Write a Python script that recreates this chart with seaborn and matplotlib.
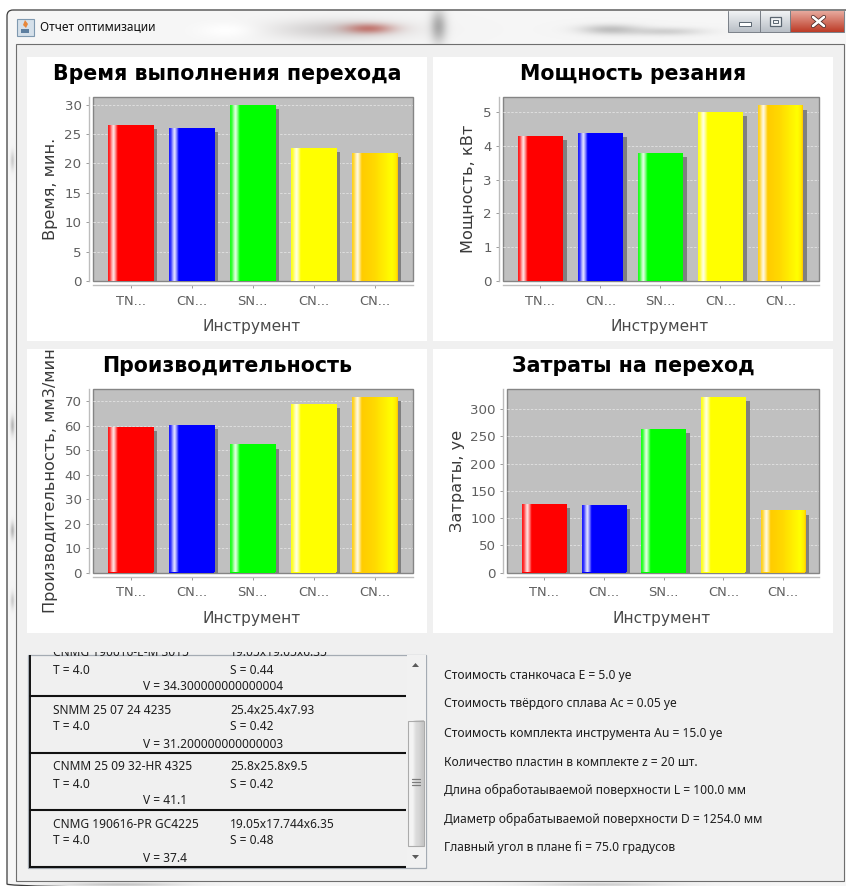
import numpy as np
import pandas as pd
import matplotlib
matplotlib.use("Agg")
import matplotlib.pyplot as plt
import matplotlib.patheffects as pe
from matplotlib.patches import Rectangle, FancyBboxPatch, Polygon
import seaborn as sns

# Tool identifiers and truncated axis labels
tool_ids = ["tool_1", "tool_2", "tool_3", "tool_4", "tool_5"]
tool_labels = ["TN...", "CN...", "SN...", "CN...", "CN..."]
tool_colors = ["#FF0000", "#0000FF", "#00FF00", "#FFFF00", "#FFCC00"]

# Measured values per tool
time_values = [26.5, 26.0, 29.9, 22.7, 21.8]
power_values = [4.28, 4.37, 3.79, 5.0, 5.19]
productivity_values = [59.3, 60.2, 52.3, 68.8, 71.5]
cost_values = [126.4, 124.5, 264.4, 322.0, 114.0]

# Tick values per chart
time_ticks = [0, 5, 10, 15, 20, 25, 30]
power_ticks = [0, 1, 2, 3, 4, 5]
productivity_ticks = [0, 10, 20, 30, 40, 50, 60, 70]
cost_ticks = [0, 50, 100, 150, 200, 250, 300]

# Text of the report list and the parameter block
list_rows = [
    ("CNMG 190616-E-M 3015", "19.05x19.05x6.35", "T = 4.0", "S = 0.44", "V = 34.300000000000004"),
    ("SNMM 25 07 24 4235", "25.4x25.4x7.93", "T = 4.0", "S = 0.42", "V = 31.200000000000003"),
    ("CNMM 25 09 32-HR 4325", "25.8x25.8x9.5", "T = 4.0", "S = 0.42", "V = 41.1"),
    ("CNMG 190616-PR GC4225", "19.05x17.744x6.35", "T = 4.0", "S = 0.48", "V = 37.4"),
]
parameter_lines = [
    "Стоимость станкочаса E = 5.0 уе",
    "Стоимость твёрдого сплава Ac = 0.05 уе",
    "Стоимость комплекта инструмента Au = 15.0 уе",
    "Количество пластин в комплекте z = 20 шт.",
    "Длина обработаываемой поверхности L = 100.0 мм",
    "Диаметр обрабатываемой поверхности D = 1254.0 мм",
    "Главный угол в плане fi = 75.0 градусов",
]

W, H = 846, 886
PLOT_BG = "#C0C0C0"
PANEL_BG = "#F0F0F0"
AXIS_TEXT = "#5F5F5F"
UI_FONT = "Noto Sans"

sns.set_theme(style="white")
plt.rcParams["font.family"] = ["DejaVu Sans"]

fig = plt.figure(figsize=(W / 100, H / 100), dpi=100, facecolor="white")

# Window frame layer, addressed in pixels with the origin at the top left
chrome = fig.add_axes([0, 0, 1, 1], zorder=0)
chrome.set_xlim(0, W)
chrome.set_ylim(H, 0)
chrome.axis("off")


def soft_layer():
    """Blurred desktop showing through the glass title bar and frame."""
    yy, xx = np.mgrid[0:H, 0:W]
    rgb = np.ones((H, W, 3)) * 0.965
    blobs = [
        (340, 29, 65, 10, (0.66, 0.64, 0.64), 0.5),
        (368, 28, 24, 5, (0.72, 0.28, 0.24), 0.65),
        (225, 30, 28, 8, (1.0, 1.0, 1.0), 0.95),
        (438, 26, 8, 16, (0.62, 0.62, 0.62), 0.85),
        (610, 29, 30, 5, (0.55, 0.55, 0.55), 0.5),
        (665, 31, 38, 4, (0.60, 0.60, 0.60), 0.4),
        (12, 160, 2, 9, (0.70, 0.70, 0.70), 0.6),
        (12, 425, 2, 9, (0.62, 0.62, 0.62), 0.7),
        (12, 530, 2, 8, (0.62, 0.62, 0.62), 0.7),
        (12, 600, 2, 8, (0.70, 0.70, 0.70), 0.6),
        (120, 884, 60, 2, (0.70, 0.70, 0.70), 0.7),
        (600, 884, 70, 2, (0.72, 0.72, 0.72), 0.6),
    ]
    for cx, cy, sx, sy, col, strength in blobs:
        a = strength * np.exp(-((xx - cx) / sx) ** 2 - ((yy - cy) / sy) ** 2)
        rgb = rgb * (1 - a[..., None]) + np.array(col) * a[..., None]
    return rgb


window = FancyBboxPatch((7, 10), 845, 880, boxstyle="round,pad=0,rounding_size=6",
                        fc="none", ec="#3C3C3C", lw=0.9, zorder=2)
chrome.add_patch(window)
layer = chrome.imshow(soft_layer(), extent=(0, W, H, 0), aspect="auto", zorder=1)
clip_shape = FancyBboxPatch((7, 10), 845, 880, boxstyle="round,pad=0,rounding_size=6",
                            fc="none", ec="none", transform=chrome.transData)
chrome.add_patch(clip_shape)
layer.set_clip_path(clip_shape)
chrome.set_xlim(0, W)
chrome.set_ylim(H, 0)

# Client area with its thin border
chrome.add_patch(Rectangle((15.5, 43.5), 828, 837.5, fc=PANEL_BG, ec="#6E6E6E", lw=0.8, zorder=3))

# White chart panels
for px, py in [(27, 57), (433, 57), (27, 349), (433, 349)]:
    chrome.add_patch(Rectangle((px, py), 399.5, 284, fc="white", ec="none", zorder=4))

# Title bar: icon, caption, window buttons
chrome.add_patch(Rectangle((17, 18.5), 16.5, 17.5, fc="#D5E0EA", ec="#7F99B0", lw=0.8, zorder=4))
chrome.add_patch(Rectangle((21, 28.5), 8, 4, fc="#5E7FA0", ec="none", zorder=5))
chrome.add_patch(Polygon([(25, 20), (28, 24), (26, 28), (23, 25)], fc="#E8873A", ec="none", zorder=5))
chrome.text(40, 27, "Отчет оптимизации", family=UI_FONT, fontsize=8.6, color="#101010",
            va="center", ha="left", zorder=5)

for x0, x1, top, bottom in [(728, 760, "#F0F2F4", "#BAC0C7"), (760, 790, "#F0F2F4", "#BAC0C7"),
                            (790, 844, "#E6A89C", "#BE3D29")]:
    grad = np.linspace(0, 1, 22)[:, None, None]
    c0 = np.array(matplotlib.colors.to_rgb(top))
    c1 = np.array(matplotlib.colors.to_rgb(bottom))
    chrome.imshow(c0 * (1 - grad) + c1 * grad, extent=(x0, x1, 32, 11), aspect="auto", zorder=5)
    chrome.plot([x0, x0, x1, x1], [11, 32, 32, 11], color="#7A8088", lw=0.7, zorder=6)
chrome.set_xlim(0, W)
chrome.set_ylim(H, 0)
chrome.add_patch(Rectangle((739, 21.5), 12, 4, fc="white", ec="#5A6570", lw=0.7, zorder=7))
chrome.add_patch(Rectangle((769.5, 16.5), 11, 9, fc="#F2F4F6", ec="#5A6570", lw=0.9, zorder=7))
chrome.add_patch(Rectangle((772.5, 19.5), 5, 3, fc="#F2F4F6", ec="#5A6570", lw=0.7, zorder=7))
for dx0, dx1 in [(813, 824), (824, 813)]:
    chrome.plot([dx0, dx1], [17, 26], color="#4A2A28", lw=3.0, solid_capstyle="round", zorder=7)
    chrome.plot([dx0, dx1], [17, 26], color="white", lw=1.9, solid_capstyle="round", zorder=8)

# Scrolling list of tools; the first row is partly scrolled out of view
box = Rectangle((28, 654.5), 398, 213, fc=PANEL_BG, ec="#A4ABB3", lw=0.9, zorder=4)
chrome.add_patch(box)
viewport = Rectangle((28, 651.5), 398, 216, fc="none", ec="none", transform=chrome.transData)
chrome.add_patch(viewport)
row_tops = [639, 696, 753, 810]
LIST_SIZE = 8.6
for top, (name, size, t, s, v) in zip(row_tops, list_rows):
    for x, y, string in [(53, top + 14, name), (230, top + 14, size), (53, top + 31, t),
                         (230, top + 31, s), (143, top + 48, v)]:
        label = chrome.text(x, y, string, family=UI_FONT, fontsize=LIST_SIZE, color="#1E1E1E",
                            va="center", ha="left", zorder=5)
        label.set_clip_on(True)
        label.set_clip_path(viewport)
    chrome.plot([29, 406], [top + 57, top + 57], color="#111111", lw=1.5, zorder=5,
                solid_capstyle="butt")
chrome.plot([29.5, 29.5], [655, 867], color="#111111", lw=1.4, zorder=5, solid_capstyle="butt")

# Scrollbar with thumb, grip and arrows
chrome.add_patch(Rectangle((406.5, 655), 19, 212, fc="#F1F1F1", ec="none", zorder=5))
thumb = np.array([[0.95, 0.95, 0.86, 0.83, 0.78]])
chrome.imshow(thumb, cmap="gray", vmin=0, vmax=1, extent=(408, 423.5, 846, 720.5),
              aspect="auto", zorder=6, interpolation="bilinear")
chrome.set_xlim(0, W)
chrome.set_ylim(H, 0)
chrome.add_patch(Rectangle((408, 720.5), 15.5, 125.5, fc="none", ec="#ABABAB", lw=0.8, zorder=7))
for gy in (779, 782, 785):
    chrome.plot([411.5, 419.5], [gy, gy], color="#7A7A7A", lw=0.9, zorder=8)
chrome.add_patch(Polygon([(412, 667), (419, 667), (415.5, 663)], fc="#5A5A5A", ec="none", zorder=7))
chrome.add_patch(Polygon([(412, 855), (419, 855), (415.5, 859)], fc="#5A5A5A", ec="none", zorder=7))

# Parameter block to the right of the list
for y, line in zip([676, 704, 733, 762, 790, 819, 847], parameter_lines):
    chrome.text(444, y, line, family=UI_FONT, fontsize=8.7, color="#1E1E1E",
                va="center", ha="left", zorder=5)


def bar_overlay(face, width=64):
    """Horizontal highlight painted over one bar: a bright stripe near the left edge."""
    u = np.linspace(0, 1, width)
    rgb = np.ones((1, width, 3)) * np.array(matplotlib.colors.to_rgb(face))
    if face == "#FFCC00":
        # The last bar fades from amber to yellow and back at its right edge
        g = np.interp(u, [0, 0.22, 0.48, 0.88, 0.97, 1.0], [0.80, 0.80, 0.85, 1.0, 0.92, 0.78])
        rgb[0, :, 1] = g
    white = np.interp(u, [0, 0.035, 0.075, 0.115, 0.17, 0.21, 1.0],
                      [0.10, 0.22, 0.62, 0.92, 0.45, 0.0, 0.0])
    rgb = rgb * (1 - white[None, :, None]) + white[None, :, None]
    return rgb


def draw_chart(rect, values, ticks, ymax, title, ylabel, title_x, title_y, ylabel_x,
               xlabel_x, xlabel_y, bar_px, xlim):
    left, top, right, bottom = rect
    ax = fig.add_axes([left / W, 1 - bottom / H, (right - left) / W, (bottom - top) / H], zorder=1)
    frame = pd.DataFrame({"tool": tool_ids, "value": values})
    sns.barplot(data=frame, x="tool", y="value", hue="tool", order=tool_ids, hue_order=tool_ids,
                palette=tool_colors, saturation=1, width=bar_px, dodge=False, legend=False,
                linewidth=0, ax=ax)

    ax.set_facecolor(PLOT_BG)
    ax.patch.set_edgecolor("#858585")
    ax.patch.set_linewidth(1.0)
    ax.set_axisbelow(True)
    ax.grid(axis="y", color="#DEDEDE", linestyle=(0, (2.5, 1.5)), linewidth=0.7)
    ax.grid(axis="x", visible=False)

    for patch in ax.patches:
        patch.set_path_effects([
            pe.SimplePatchShadow(offset=(3.0, -3.0), shadow_rgbFace="#808080", alpha=1.0),
            pe.Normal(),
        ])
        box_ = patch.get_bbox()
        face = matplotlib.colors.to_hex(patch.get_facecolor()).upper()
        img = ax.imshow(bar_overlay(face), extent=(box_.x0, box_.x1, box_.y0, box_.y1),
                        aspect="auto", zorder=patch.get_zorder() + 0.1, interpolation="bilinear")
        img.set_clip_path(patch)

    ax.set_xlim(*xlim)
    ax.set_ylim(0, ymax)
    ax.set_yticks(ticks)
    ax.set_xticks(range(len(tool_labels)))
    ax.set_xticklabels(tool_labels)

    # Axes are drawn detached from the plot area
    for side in ("top", "right"):
        ax.spines[side].set_visible(False)
    for side in ("left", "bottom"):
        ax.spines[side].set_position(("outward", 3.2))
        ax.spines[side].set_color("#BDBDBD")
        ax.spines[side].set_linewidth(1.0)
    ax.tick_params(axis="both", length=2.0, width=0.7, color="#9A9A9A", labelcolor=AXIS_TEXT,
                   labelsize=9.6, left=True, bottom=True)
    ax.tick_params(axis="x", pad=4.8, labelsize=9.4)
    ax.tick_params(axis="y", pad=3.0)

    def to_axes(px, py):
        return (px - left) / (right - left), (bottom - py) / (bottom - top)

    tx, ty = to_axes(title_x, title_y)
    ax.set_title(title, x=tx, y=ty, va="center", ha="center", fontsize=14.8, fontweight="bold",
                 color="black", pad=0)
    ax.set_xlabel("Инструмент", fontsize=11.1, color="#4A4A4A")
    ax.xaxis.set_label_coords(*to_axes(xlabel_x, xlabel_y))
    ax.xaxis.label.set_va("center")
    ax.set_ylabel(ylabel, fontsize=11.6, color="#3A3A3A")
    ax.yaxis.set_label_coords(*to_axes(ylabel_x, (top + bottom) / 2))
    ax.yaxis.label.set_va("center")
    return ax


draw_chart((93, 97, 413, 281), time_values, time_ticks, 31.3, "Время выполнения перехода",
           "Время, мин.", 227, 74.5, 51, 252, 326.5, 0.74, (-0.615, 4.63))
draw_chart((503, 97, 819, 281), power_values, power_ticks, 5.44, "Мощность резания",
           "Мощность, кВт", 633, 74.5, 468, 660, 326.5, 0.74, (-0.62, 4.64))
draw_chart((93, 389, 413, 572.5), productivity_values, productivity_ticks, 74.9, "Производительность",
           "Производительность, мм3/мин", 227, 366.5, 51, 252, 618.5, 0.74, (-0.615, 4.63))
draw_chart((507, 389, 819, 572.5), cost_values, cost_ticks, 337, "Затраты на переход",
           "Затраты, уе", 633, 366.5, 457, 662, 618.5, 0.74, (-0.62, 4.60))

fig.savefig("out.png", dpi=100, facecolor="white")
